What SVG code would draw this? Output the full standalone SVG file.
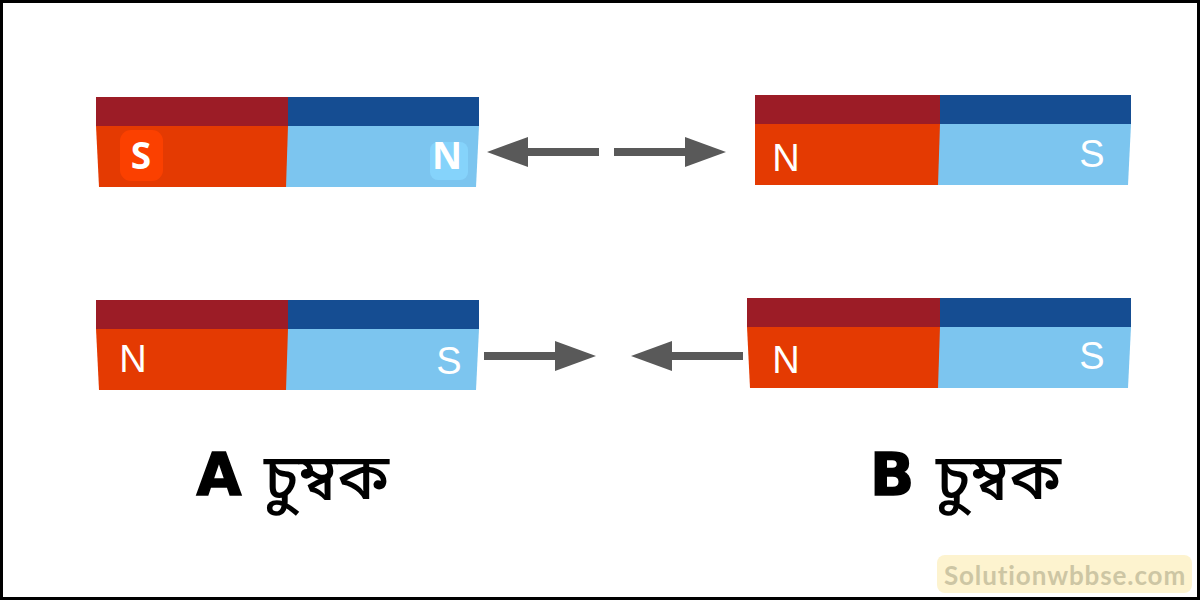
<svg xmlns="http://www.w3.org/2000/svg" width="1200" height="600" viewBox="0 0 1200 600">
<style>
.dr{fill:#9c1c26}.db{fill:#154d92}.r{fill:#e43a02}.b{fill:#7cc5ef}
.p{font-family:"Liberation Sans",sans-serif;font-size:38px;fill:#fff;text-anchor:middle}
.pb{font-family:"Open Sans","Liberation Sans",sans-serif;font-size:37px;font-weight:700;fill:#fff;text-anchor:middle}
.a{fill:#595959}
.l{font-family:"DejaVu Sans","Liberation Sans",sans-serif;font-weight:700;font-size:58px;fill:#000;stroke:#000;stroke-width:1.500;text-anchor:middle}
.bn{font-family:"Noto Sans","Noto Sans Bengali","Lohit Bengali",sans-serif;font-weight:500;font-size:64px;fill:#000}
</style>
<defs>
<g id="arrow"><rect x="0" y="-4" width="74" height="8" class="a"/><polygon points="71,-15 112,0 71,15" class="a"/></g>
</defs>
<rect width="1200" height="600" fill="#fff"/>
<g id="magnet-a-top">
<rect x="96" y="97" width="193" height="29" class="dr"/><rect x="288" y="97" width="191" height="29" class="db"/>
<polygon points="96,126 289,126 287,187 99,187" class="r"/><polygon points="288,126 479,126 476,187 286,187" class="b"/>
<rect x="120" y="130" width="43" height="51" rx="11" fill="#fb4000"/>
<rect x="430" y="142" width="38" height="38" rx="8" fill="#85d3fb"/>
<text x="141" y="169" class="pb">S</text><text x="447" y="169" class="pb">N</text>
</g>
<g id="magnet-b-top">
<rect x="755" y="95" width="186" height="29" class="dr"/><rect x="940" y="95" width="191" height="29" class="db"/>
<polygon points="755,124 941,124 939,185 755,185" class="r"/><polygon points="940,124 1131,124 1128,185 938,185" class="b"/>
<text x="786" y="171" class="p">N</text><text x="1092" y="167" class="p">S</text>
</g>
<g id="magnet-a-bottom">
<rect x="96" y="300" width="193" height="29" class="dr"/><rect x="288" y="300" width="191" height="29" class="db"/>
<polygon points="96,329 289,329 287,390 99,390" class="r"/><polygon points="288,329 479,329 476,390 286,390" class="b"/>
<text x="133" y="372" class="p">N</text><text x="449" y="374" class="p">S</text>
</g>
<g id="magnet-b-bottom">
<rect x="747" y="298" width="194" height="29" class="dr"/><rect x="940" y="298" width="191" height="29" class="db"/>
<polygon points="747,327 941,327 939,388 750,388" class="r"/><polygon points="940,327 1131,327 1128,388 938,388" class="b"/>
<text x="786" y="373" class="p">N</text><text x="1092" y="369" class="p">S</text>
</g>
<g id="connectors">
<use href="#arrow" transform="translate(599,152) scale(-1,1)"/>
<use href="#arrow" transform="translate(614,152)"/>
<use href="#arrow" transform="translate(484,356)"/>
<use href="#arrow" transform="translate(743,356) scale(-1,1)"/>
</g>
<g id="label-a"><text x="219" y="495" class="l">A</text><text x="264" y="499" class="bn">চুম্বক</text></g>
<g id="label-b"><text x="892" y="495" class="l">B</text><text x="936" y="499" class="bn">চুম্বক</text></g>
<g id="watermark">
<rect x="937" y="555" width="255" height="38" rx="8" fill="#fdf3cf"/>
<text x="1065" y="585" font-family="Lato,'Open Sans',sans-serif" font-size="26" font-weight="700" letter-spacing="0.9" fill="#cdc6a4" text-anchor="middle">Solutionwbbse.com</text>
</g>
<rect x="1.500" y="1.500" width="1197" height="597" fill="none" stroke="#000" stroke-width="3"/>
</svg>
